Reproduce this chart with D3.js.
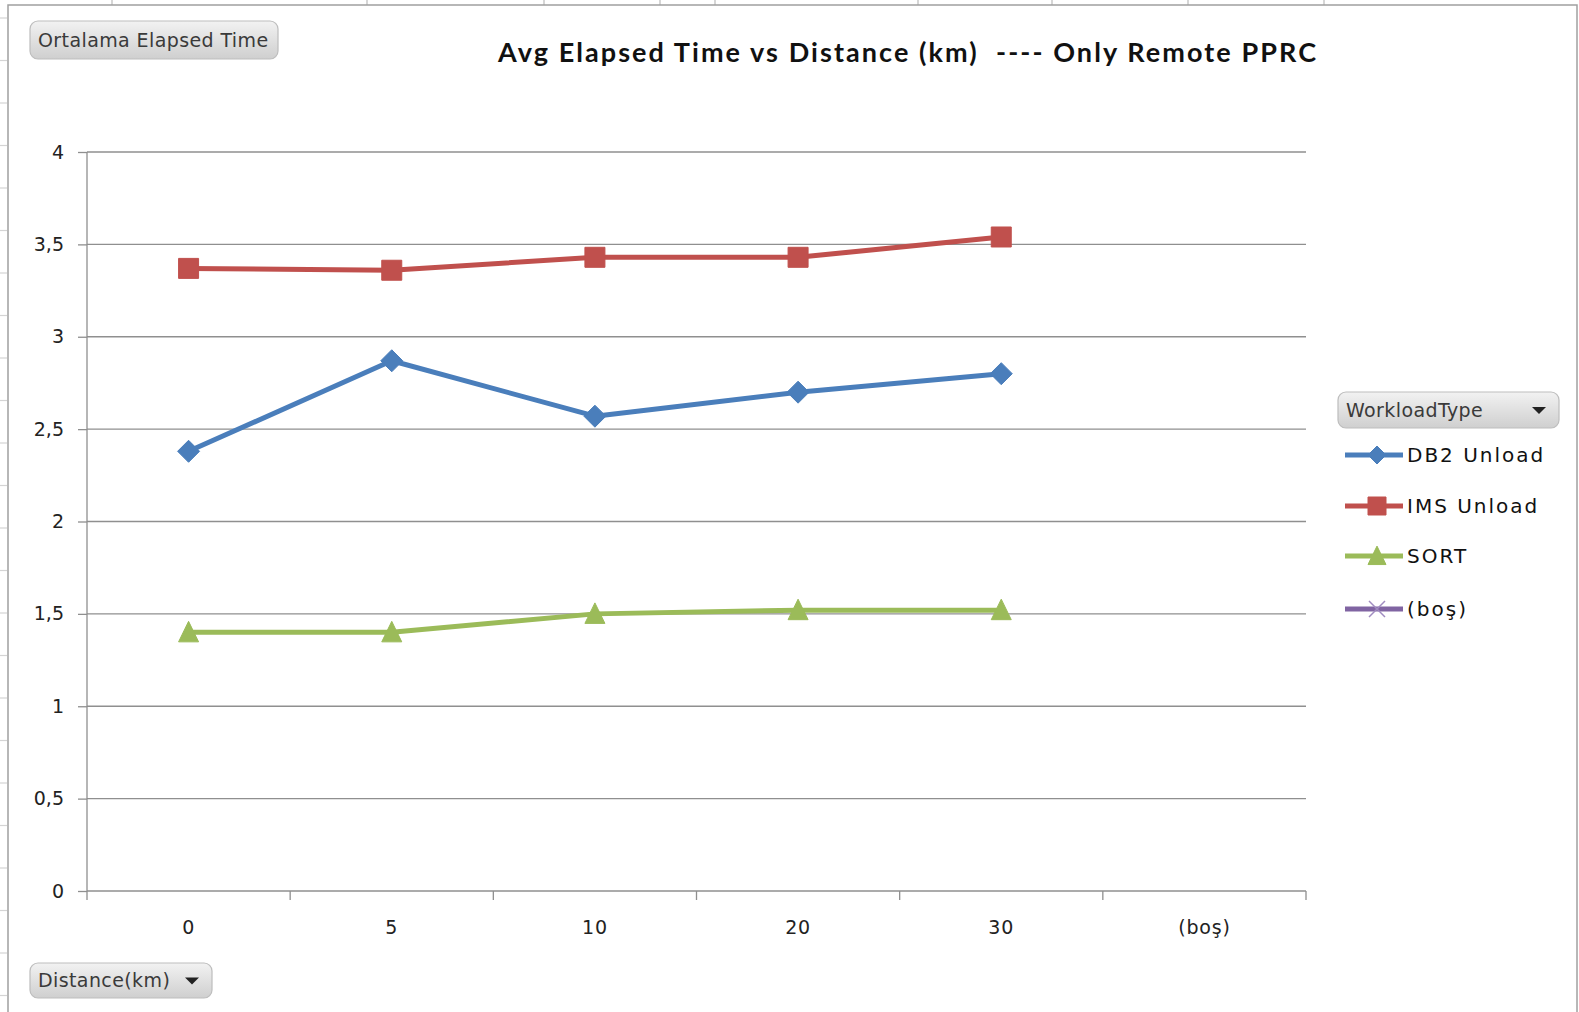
<!DOCTYPE html>
<html><head><meta charset="utf-8">
<script src="https://cdn.jsdelivr.net/npm/d3@7"></script>
<style>
html,body{margin:0;padding:0;background:#fff;}
svg{display:block;}
</style></head>
<body>
<svg id="chart" width="1579" height="1012"></svg>
<script>
const categories = ["0", "5", "10", "20", "30", "(boş)"];
const seriesNames = ["DB2 Unload", "IMS Unload", "SORT", "(boş)"];
const db2Values = [2.38, 2.87, 2.57, 2.70, 2.80, null];
const imsValues = [3.37, 3.36, 3.43, 3.43, 3.54, null];
const sortValues = [1.40, 1.40, 1.50, 1.52, 1.52, null];
const bosValues = [null, null, null, null, null, null];
const yTicks = [0, 0.5, 1, 1.5, 2, 2.5, 3, 3.5, 4];
const yTickLabels = ["0", "0,5", "1", "1,5", "2", "2,5", "3", "3,5", "4"];
const titleText = "Avg Elapsed Time vs Distance (km)  ---- Only Remote PPRC";
const valueFieldLabel = "Ortalama Elapsed Time";
const axisFieldLabel = "Distance(km)";
const legendFieldLabel = "WorkloadType";

const colors = ["#4a7ebb", "#c0504d", "#9bbb59", "#8064a2"];
const markers = ["diamond", "square", "triangle", "cross"];
const seriesData = [db2Values, imsValues, sortValues, bosValues];

const svg = d3.select("#chart");
const uiFont = "'DejaVu Sans', Verdana, sans-serif";

// spreadsheet background hints
const bg = svg.append("g");
[112, 367, 544, 660, 715, 918, 1052, 1188, 1324].forEach(x => {
  bg.append("line").attr("x1", x).attr("x2", x).attr("y1", 0).attr("y2", 5)
    .attr("stroke", "#c8c8c8").attr("stroke-width", 1.5);
});
d3.range(18, 1012, 42.5).forEach(y => {
  bg.append("line").attr("x1", 0).attr("x2", 7).attr("y1", y).attr("y2", y)
    .attr("stroke", "#d4d4d4").attr("stroke-width", 1.2);
});
// chart frame
svg.append("rect").attr("x", 8).attr("y", 5).attr("width", 1569).attr("height", 1020)
  .attr("fill", "#fff").attr("stroke", "#a0a0a0").attr("stroke-width", 1.5);

// gradient for buttons
const defs = svg.append("defs");
const grad = defs.append("linearGradient").attr("id", "btn").attr("x1", 0).attr("x2", 0).attr("y1", 0).attr("y2", 1);
grad.append("stop").attr("offset", "0%").attr("stop-color", "#f2f2f2");
grad.append("stop").attr("offset", "100%").attr("stop-color", "#cfcfcf");

function button(x, y, w, h, label, arrow, fs) {
  const g = svg.append("g");
  g.append("rect").attr("x", x).attr("y", y).attr("width", w).attr("height", h)
    .attr("rx", 8).attr("fill", "url(#btn)").attr("stroke", "#bdbdbd").attr("stroke-width", 1.2);
  g.append("text").attr("x", x + 8).attr("y", y + h / 2 + 1).attr("dominant-baseline", "middle")
    .attr("font-family", uiFont).attr("font-size", fs).attr("letter-spacing", 0.4).attr("fill", "#3a3a3a").text(label);
  if (arrow) {
    const ax = x + w - 20, ay = y + h / 2;
    g.append("path").attr("d", `M${ax - 7},${ay - 3} L${ax + 7},${ay - 3} L${ax},${ay + 4} Z`).attr("fill", "#222");
  }
}

const x = d3.scaleBand().domain(categories).range([87, 1306]).padding(0);
const y = d3.scaleLinear().domain([0, 4]).range([891, 152]);

// gridlines
svg.append("g").selectAll("line").data(yTicks.filter(d => d > 0)).join("line")
  .attr("x1", 87).attr("x2", 1306).attr("y1", d => y(d)).attr("y2", d => y(d))
  .attr("stroke", "#8f8f8f").attr("stroke-width", 1.3);

// y axis
const yAxis = d3.axisLeft(y).tickValues(yTicks).tickSize(9).tickPadding(14)
  .tickFormat((d, i) => yTickLabels[i]);
const gy = svg.append("g").attr("transform", "translate(87,0)").call(yAxis);
gy.select(".domain").attr("stroke", "#8f8f8f").attr("stroke-width", 1.3).attr("d", `M0,${y(4)}V${y(0)}`);
gy.selectAll(".tick line").attr("stroke", "#8f8f8f").attr("stroke-width", 1.3);
gy.selectAll(".tick text").attr("font-family", uiFont).attr("font-size", 19).attr("fill", "#222");

// x axis
const gx = svg.append("g").attr("transform", `translate(0,${y(0)})`);
gx.append("line").attr("x1", 87).attr("x2", 1306).attr("stroke", "#8f8f8f").attr("stroke-width", 1.3);
const bounds = categories.map(c => x(c)).concat([x.range()[1]]);
gx.selectAll("line.tk").data(bounds).join("line").attr("class", "tk")
  .attr("x1", d => d).attr("x2", d => d).attr("y1", 0).attr("y2", 9)
  .attr("stroke", "#8f8f8f").attr("stroke-width", 1.3);
gx.selectAll("text").data(categories).join("text")
  .attr("x", d => x(d) + x.bandwidth() / 2).attr("y", 43).attr("text-anchor", "middle")
  .attr("font-family", uiFont).attr("font-size", 19).attr("letter-spacing", 0.8).attr("fill", "#222").text(d => d);

function markerPath(type, s) {
  if (type === "diamond") return `M0,${-s}L${s},0L0,${s}L${-s},0Z`;
  if (type === "square") return `M${-s},${-s}H${s}V${s}H${-s}Z`;
  if (type === "triangle") return `M0,${-s * 1.1}L${s},${s * 0.95}L${-s},${s * 0.95}Z`;
  return `M${-s},${-s}L${s},${s}M${-s},${s}L${s},${-s}`;
}
const markerSize = [11, 10, 10, 9];

const line = d3.line().defined(d => d.v != null)
  .x(d => x(d.c) + x.bandwidth() / 2).y(d => y(d.v));

seriesData.forEach((vals, si) => {
  const pts = categories.map((c, i) => ({ c, v: vals[i] }));
  svg.append("path").datum(pts).attr("d", line).attr("fill", "none")
    .attr("stroke", colors[si]).attr("stroke-width", 5).attr("stroke-linejoin", "round");
  svg.append("g").selectAll("path").data(pts.filter(d => d.v != null)).join("path")
    .attr("transform", d => `translate(${x(d.c) + x.bandwidth() / 2},${y(d.v)})`)
    .attr("d", markerPath(markers[si], markerSize[si]))
    .attr("fill", colors[si]).attr("stroke", colors[si]).attr("stroke-width", 1);
});

// title
svg.append("text").attr("x", 907).attr("y", 62).attr("text-anchor", "middle")
  .attr("font-family", "Lato, 'Open Sans', sans-serif").attr("font-weight", "bold")
  .attr("font-size", 27).attr("fill", "#111").attr("xml:space", "preserve")
  .attr("textLength", 818).attr("lengthAdjust", "spacing").text(titleText);

// field buttons
button(30, 21, 248, 38, valueFieldLabel, false, 19);
button(30, 963, 182, 35, axisFieldLabel, true, 19);
button(1338, 392, 221, 36, legendFieldLabel, true, 19);

// legend
const legY = [455, 506, 556, 609];
seriesNames.forEach((n, si) => {
  const g = svg.append("g").attr("transform", `translate(0,${legY[si]})`);
  g.append("line").attr("x1", 1345).attr("x2", 1403).attr("stroke", colors[si]).attr("stroke-width", 5);
  g.append("path").attr("transform", "translate(1377,0)")
    .attr("d", markerPath(markers[si], si === 3 ? 8 : 9))
    .attr("fill", colors[si]).attr("stroke", si === 3 ? "#a08cc0" : colors[si]).attr("stroke-width", si === 3 ? 1.5 : 1);
  g.append("text").attr("x", 1407).attr("y", 1).attr("dominant-baseline", "middle")
    .attr("font-family", uiFont).attr("font-size", 20).attr("letter-spacing", 2).attr("fill", "#111").text(n);
});
</script>
</body></html>
